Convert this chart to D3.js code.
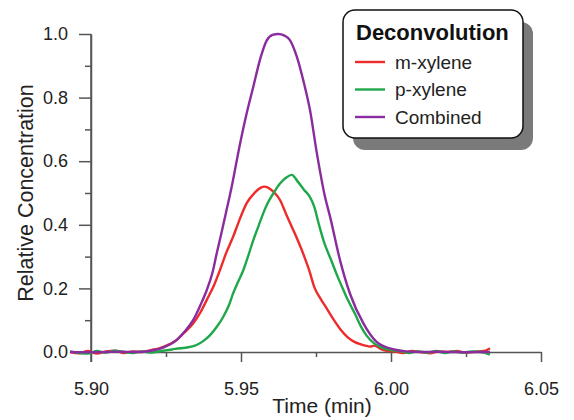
<!DOCTYPE html>
<html><head><meta charset="utf-8">
<script src="https://cdn.jsdelivr.net/npm/d3@7"></script>
<style>body{margin:0;background:#fff}svg{display:block}</style>
</head><body>
<script>
// ---- data ----
const mTime = [5.893,5.896,5.899,5.902,5.905,5.908,5.911,5.914,5.917,5.920,5.923,5.926,5.9286,5.931,5.9341,5.9365,5.9386,5.941,5.943,5.945,5.9474,5.9496,5.9519,5.9545,5.9565,5.9578,5.959,5.9608,5.963,5.9652,5.9674,5.9692,5.9711,5.9728,5.9744,5.9765,5.9789,5.981,5.9833,5.9855,5.9878,5.990,5.9915,5.993,5.9945,5.9965,5.9986,6.001,6.004,6.007,6.010,6.013,6.016,6.019,6.022,6.025,6.028,6.031,6.033];
const mXylene = [0.0,-0.004,0.003,-0.005,0.002,0.004,-0.003,0.002,0.0,0.006,0.012,0.024,0.038,0.060,0.090,0.125,0.164,0.21,0.258,0.31,0.363,0.418,0.468,0.500,0.516,0.520,0.517,0.504,0.478,0.43,0.384,0.345,0.300,0.255,0.205,0.168,0.132,0.100,0.069,0.047,0.032,0.024,0.020,0.017,0.020,0.010,0.004,0.002,-0.003,0.003,0.0,-0.004,0.002,0.0,0.003,-0.002,0.001,0.003,0.012];

const pTime = [5.893,5.896,5.899,5.902,5.905,5.908,5.911,5.914,5.917,5.920,5.924,5.927,5.9297,5.932,5.9352,5.9375,5.9397,5.942,5.9441,5.946,5.9474,5.949,5.9508,5.9525,5.9541,5.9558,5.9574,5.959,5.9608,5.963,5.965,5.9669,5.969,5.9711,5.9728,5.9744,5.976,5.9778,5.980,5.9822,5.9839,5.9856,5.988,5.990,5.992,5.9944,5.997,6.000,6.003,6.006,6.009,6.012,6.015,6.018,6.021,6.024,6.027,6.030,6.033];
const pXylene = [0.002,-0.003,-0.005,0.003,-0.002,0.004,0.0,-0.003,0.002,-0.002,0.004,0.008,0.012,0.014,0.022,0.035,0.053,0.080,0.111,0.148,0.185,0.22,0.258,0.305,0.352,0.395,0.436,0.470,0.499,0.530,0.548,0.557,0.535,0.509,0.490,0.457,0.40,0.342,0.290,0.237,0.200,0.164,0.120,0.080,0.050,0.027,0.014,0.006,0.003,-0.003,0.002,-0.002,0.003,-0.003,0.002,-0.002,0.002,0.0,-0.008];

const cTime = [5.893,5.900,5.905,5.910,5.915,5.920,5.924,5.9286,5.931,5.9341,5.9365,5.9386,5.9405,5.9419,5.9435,5.9452,5.9469,5.9497,5.952,5.9541,5.9565,5.9586,5.9605,5.9624,5.9645,5.9663,5.9686,5.971,5.973,5.9752,5.978,5.9797,5.983,5.9863,5.9908,5.9952,6.001,6.005,6.010,6.015,6.020,6.025,6.030,6.033];
const combined = [0.0,-0.001,0.0,0.001,0.0,0.004,0.014,0.038,0.062,0.101,0.148,0.195,0.25,0.310,0.375,0.447,0.520,0.656,0.755,0.834,0.925,0.980,0.997,1.0,0.995,0.981,0.929,0.845,0.761,0.63,0.488,0.425,0.289,0.184,0.090,0.032,0.008,0.002,0.0,0.001,0.0,-0.001,0.0,0.0];

const seriesNames = ["m-xylene","p-xylene","Combined"];
const seriesColors = ["#ee2b2b","#1ea84a","#8a2c9e"];
const xTicks = [5.90,5.95,6.00,6.05];
const xMinorTicks = [5.925,5.975,6.025];
const yTicks = [0.0,0.2,0.4,0.6,0.8,1.0];
const yMinorTicks = [0.1,0.3,0.5,0.7,0.9];

// ---- chart ----
const W = 574, H = 420;
const FONT = "'Liberation Sans', Arial, sans-serif";
const svg = d3.select("body").append("svg").attr("width",W).attr("height",H)
  .style("font-family",FONT);
svg.append("rect").attr("width",W).attr("height",H).attr("fill","#fff");

const x = d3.scaleLinear().domain([5.90,6.05]).range([91,541]);
const y = d3.scaleLinear().domain([0,1]).range([352,34]);
const axisColor = "#555";

// x axis
const gx = svg.append("g").attr("transform",`translate(0,${y(0)})`)
  .call(d3.axisBottom(x).tickValues(xTicks).tickFormat(d3.format(".2f")).tickSize(10).tickPadding(20).tickSizeOuter(0));
const gxm = svg.append("g").attr("transform",`translate(0,${y(0)})`)
  .call(d3.axisBottom(x).tickValues(xMinorTicks).tickFormat("").tickSize(5).tickSizeOuter(0));
gxm.select(".domain").remove();
// y axis
const gy = svg.append("g").attr("transform",`translate(${x(5.90)},0)`)
  .call(d3.axisLeft(y).tickValues(yTicks).tickFormat(d3.format(".1f")).tickSize(12).tickPadding(11).tickSizeOuter(0));
const gym = svg.append("g").attr("transform",`translate(${x(5.90)},0)`)
  .call(d3.axisLeft(y).tickValues(yMinorTicks).tickFormat("").tickSize(6).tickSizeOuter(0));
gym.select(".domain").remove();
[gx,gxm,gy,gym].forEach(g=>{
  g.selectAll("path,line").attr("stroke",axisColor).attr("stroke-width",1.5);
  g.selectAll("text").attr("font-size",18).attr("fill","#222").attr("font-family",FONT);
});
// extend y axis down through the 5.90 tick
svg.append("line").attr("x1",x(5.90)).attr("x2",x(5.90)).attr("y1",y(1)).attr("y2",y(0)+10)
  .attr("stroke",axisColor).attr("stroke-width",1.5);

// axis titles
svg.append("text").attr("x",(x(5.90)+x(6.05))/2+6).attr("y",413).attr("text-anchor","middle")
  .attr("font-size",21).attr("fill","#222").text("Time (min)");
svg.append("text").attr("transform",`translate(33,${(y(0)+y(1))/2}) rotate(-90)`).attr("text-anchor","middle")
  .attr("font-size",21.5).attr("fill","#222").text("Relative Concentration");

// lines
const data = [
  {t:mTime, v:mXylene},
  {t:pTime, v:pXylene},
  {t:cTime, v:combined}
];
const line = d3.line().x(d=>x(d[0])).y(d=>y(d[1])).curve(d3.curveMonotoneX);
data.forEach((s,i)=>{
  const pts = s.t.map((t,j)=>[t,s.v[j]]);
  svg.append("path").datum(pts).attr("d",line).attr("fill","none")
    .attr("stroke",seriesColors[i]).attr("stroke-width",2.4).attr("stroke-linejoin","round");
});

// legend
const lg = svg.append("g");
const lx = 343, ly = 10, lw = 180, lh = 128;
lg.append("rect").attr("x",lx+10).attr("y",ly+12).attr("width",lw).attr("height",lh).attr("rx",12).attr("fill","#7a7a7a");
lg.append("rect").attr("x",lx).attr("y",ly).attr("width",lw).attr("height",lh).attr("rx",12)
  .attr("fill","#fff").attr("stroke","#111").attr("stroke-width",1.5);
lg.append("text").attr("x",356).attr("y",40).attr("font-size",22).attr("font-weight","bold").attr("fill","#111").text("Deconvolution");
seriesNames.forEach((n,i)=>{
  const yy = 62 + i*27.5;
  lg.append("line").attr("x1",355).attr("x2",385).attr("y1",yy).attr("y2",yy).attr("stroke",seriesColors[i]).attr("stroke-width",2.4);
  lg.append("text").attr("x",395).attr("y",yy+6.5).attr("font-size",19).attr("fill","#222").text(n);
});
</script>
</body></html>
